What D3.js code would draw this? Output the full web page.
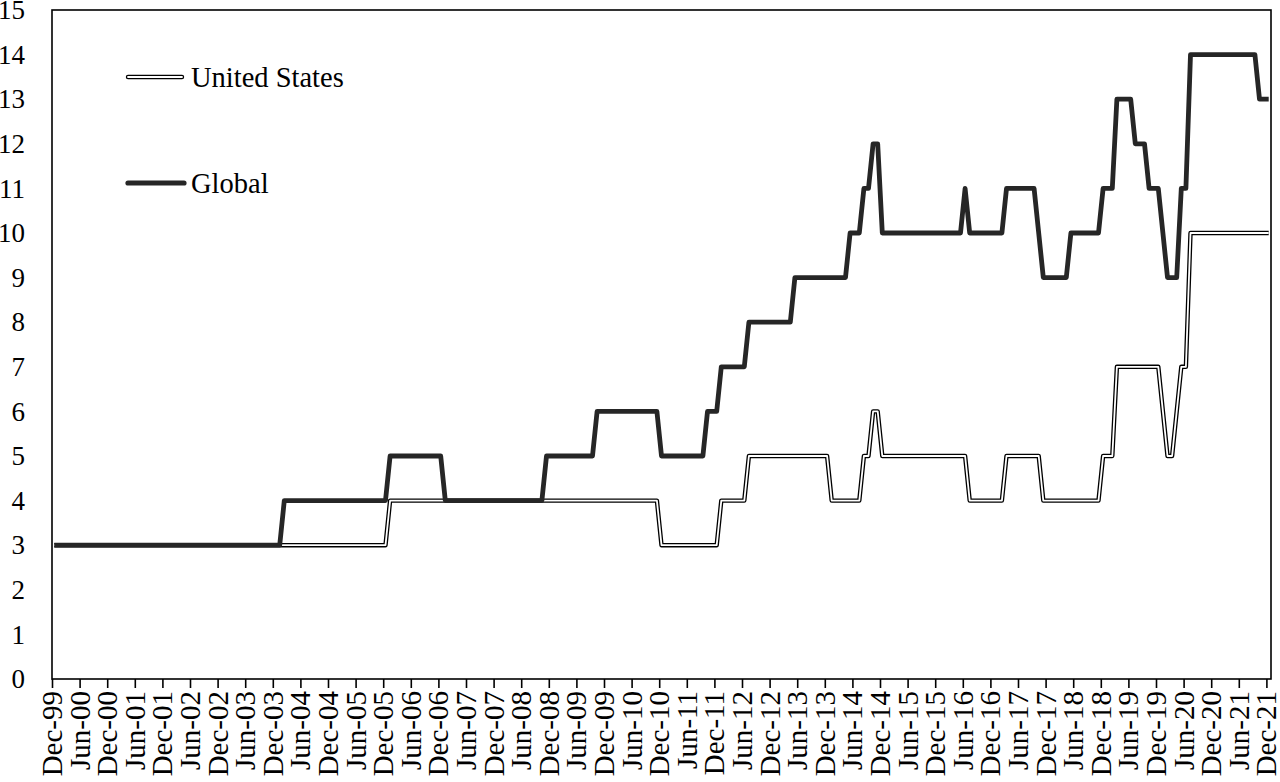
<!DOCTYPE html>
<html>
<head>
<meta charset="utf-8">
<script src="https://cdn.jsdelivr.net/npm/d3@7/dist/d3.min.js"></script>
<style>
  html, body { margin: 0; padding: 0; background: #fff; }
  svg { display: block; }
  text { font-family: "Liberation Serif", "Times New Roman", serif; fill: #000; }
</style>
</head>
<body>
<svg id="chart" width="1280" height="782"></svg>
<script>
// Monthly values, Dec-99 .. Dec-21 (265 months)
const globalValues = [
  3,3,3,3,3,3,3,3,3,3,3,3,3,3,3,3,3,3,3,3,3,3,3,3,3,3,3,3,3,3,3,3,3,3,3,3,3,3,3,3,3,3,3,3,3,3,3,3,3,3,
  4,4,4,4,4,4,4,4,4,4,4,4,4,4,4,4,4,4,4,4,4,4,4,
  5,5,5,5,5,5,5,5,5,5,5,5,
  4,4,4,4,4,4,4,4,4,4,4,4,4,4,4,4,4,4,4,4,4,4,
  5,5,5,5,5,5,5,5,5,5,5,
  6,6,6,6,6,6,6,6,6,6,6,6,6,6,
  5,5,5,5,5,5,5,5,5,5,
  6,6,6,
  7,7,7,7,7,7,
  8,8,8,8,8,8,8,8,8,8,
  9,9,9,9,9,9,9,9,9,9,9,9,
  10,10,10,
  11,11,
  12,12,
  10,10,10,10,10,10,10,10,10,10,10,10,10,10,10,10,10,10,
  11,
  10,10,10,10,10,10,10,10,
  11,11,11,11,11,11,11,
  10,
  9,9,9,9,9,9,
  10,10,10,10,10,10,10,
  11,11,11,
  13,13,13,13,
  12,12,12,
  11,11,11,
  10,
  9,9,9,
  11,11,
  14,14,14,14,14,14,14,14,14,14,14,14,14,14,14,
  13,13,13
];
const usValues = [
  3,3,3,3,3,3,3,3,3,3,3,3,3,3,3,3,3,3,3,3,3,3,3,3,3,3,3,3,3,3,3,3,3,3,3,3,3,3,3,3,3,3,3,3,3,3,3,3,3,3,3,3,3,3,3,3,3,3,3,3,3,3,3,3,3,3,3,3,3,3,3,3,3,
  4,4,4,4,4,4,4,4,4,4,4,4,4,4,4,4,4,4,4,4,4,4,4,4,4,4,4,4,4,4,4,4,4,4,4,4,4,4,4,4,4,4,4,4,4,4,4,4,4,4,4,4,4,4,4,4,4,4,4,
  3,3,3,3,3,3,3,3,3,3,3,3,3,
  4,4,4,4,4,4,
  5,5,5,5,5,5,5,5,5,5,5,5,5,5,5,5,5,5,
  4,4,4,4,4,4,4,
  5,5,
  6,6,
  5,5,5,5,5,5,5,5,5,5,5,5,5,5,5,5,5,5,5,
  4,4,4,4,4,4,4,4,
  5,5,5,5,5,5,5,5,
  4,4,4,4,4,4,4,4,4,4,4,4,4,
  5,5,5,
  7,7,7,7,7,7,7,7,7,7,
  6,
  5,5,
  6,
  7,7,
  10,10,10,10,10,10,10,10,10,10,10,10,10,10,10,10,10,10
];
const tickLabels = [
  "Dec-99","Jun-00","Dec-00","Jun-01","Dec-01","Jun-02","Dec-02","Jun-03","Dec-03",
  "Jun-04","Dec-04","Jun-05","Dec-05","Jun-06","Dec-06","Jun-07","Dec-07","Jun-08",
  "Dec-08","Jun-09","Dec-09","Jun-10","Dec-10","Jun-11","Dec-11","Jun-12","Dec-12",
  "Jun-13","Dec-13","Jun-14","Dec-14","Jun-15","Dec-15","Jun-16","Dec-16","Jun-17",
  "Dec-17","Jun-18","Dec-18","Jun-19","Dec-19","Jun-20","Dec-20","Jun-21","Dec-21"
];
const yTicks = [0,1,2,3,4,5,6,7,8,9,10,11,12,13,14,15];
const seriesNames = ["United States", "Global"];

(function () {
  const svg = d3.select("#chart");
  const mLeft = 52, mRight = 1271, mTop = 10, mBottom = 679;
  const nMonths = usValues.length;

  const x = d3.scaleLinear().domain([0, nMonths]).range([mLeft, mRight]);
  const y = d3.scaleLinear().domain([0, 15]).range([mBottom, mTop]);

  // Frame
  svg.append("rect")
    .attr("x", mLeft).attr("y", mTop)
    .attr("width", mRight - mLeft).attr("height", mBottom - mTop)
    .attr("fill", "none").attr("stroke", "#000").attr("stroke-width", 1.6);

  // X axis
  const xAxis = svg.append("g")
    .attr("transform", `translate(0,${mBottom})`)
    .call(d3.axisBottom(x)
      .tickValues(d3.range(0, nMonths, 6))
      .tickFormat((d, i) => tickLabels[i])
      .tickSize(9));
  xAxis.select(".domain").remove();
  xAxis.selectAll(".tick line").attr("stroke", "#000").attr("stroke-width", 1.6);
  xAxis.selectAll(".tick text")
    .attr("font-size", 29)
    .attr("text-anchor", "end")
    .attr("transform", "translate(0,12) rotate(-90)")
    .attr("x", 0).attr("y", 0)
    .attr("dy", "0.33em");

  // Y axis
  const yAxis = svg.append("g")
    .attr("transform", `translate(${mLeft},0)`)
    .call(d3.axisLeft(y).tickValues(yTicks).tickSize(0).tickPadding(27));
  yAxis.select(".domain").remove();
  yAxis.selectAll(".tick text").attr("font-size", 27);

  const line = d3.line()
    .x((d, i) => x(i + 0.5))
    .y(d => y(d));

  // United States: double line (black outline, white core)
  svg.append("path").datum(usValues)
    .attr("d", line).attr("fill", "none")
    .attr("stroke", "#000").attr("stroke-width", 4.4)
    .attr("stroke-linejoin", "round");
  svg.append("path").datum(usValues)
    .attr("d", line).attr("fill", "none")
    .attr("stroke", "#fff").attr("stroke-width", 1.8)
    .attr("stroke-linejoin", "round");

  // Global: thick dark line
  svg.append("path").datum(globalValues)
    .attr("d", line).attr("fill", "none")
    .attr("stroke", "#262626").attr("stroke-width", 4.8)
    .attr("stroke-linejoin", "round");

  // Legend
  const lg = svg.append("g");
  lg.append("line").attr("x1", 128).attr("x2", 182).attr("y1", 77).attr("y2", 77)
    .attr("stroke", "#000").attr("stroke-width", 4.4).attr("stroke-linecap", "round");
  lg.append("line").attr("x1", 128).attr("x2", 182).attr("y1", 77).attr("y2", 77)
    .attr("stroke", "#fff").attr("stroke-width", 1.8).attr("stroke-linecap", "round");
  lg.append("text").attr("x", 191).attr("y", 77).attr("dy", "0.35em")
    .attr("font-size", 28.5).text(seriesNames[0]);
  lg.append("line").attr("x1", 128).attr("x2", 184).attr("y1", 183).attr("y2", 183)
    .attr("stroke", "#262626").attr("stroke-width", 5.2).attr("stroke-linecap", "round");
  lg.append("text").attr("x", 191).attr("y", 183).attr("dy", "0.35em")
    .attr("font-size", 28.5).text(seriesNames[1]);
})();
</script>
</body>
</html>
